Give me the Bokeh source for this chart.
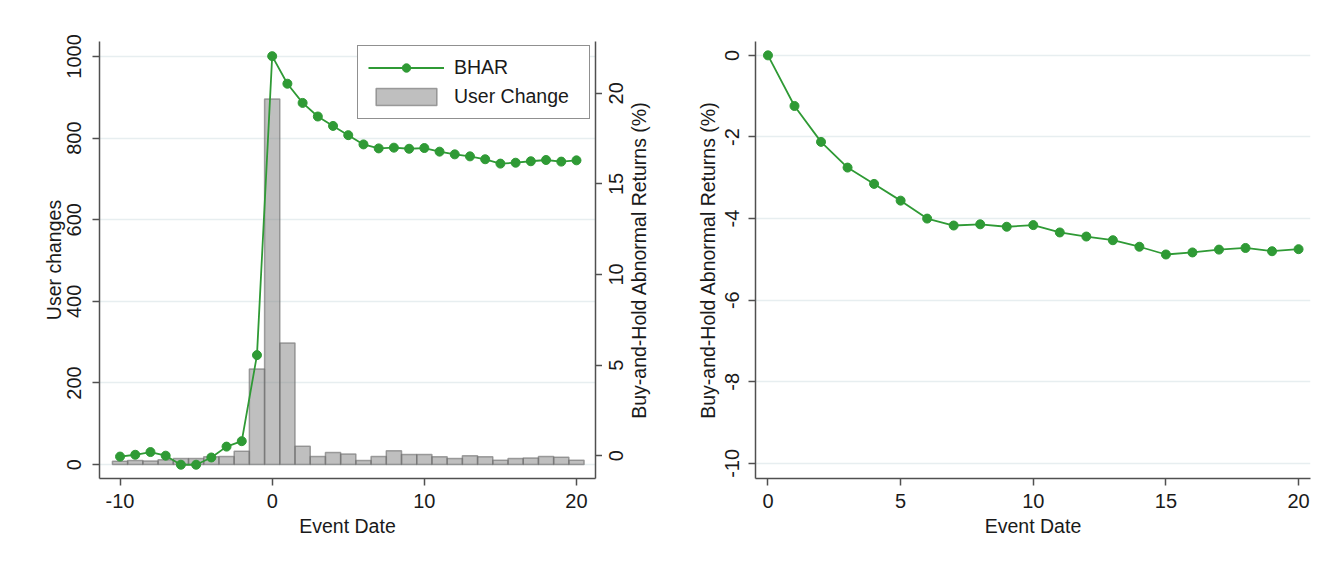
import math
from bokeh.plotting import figure
from bokeh.models import (Range1d, LinearAxis, FixedTicker, Legend, LegendItem,
                          CustomJSTickFormatter, Title)
from bokeh.layouts import row
from bokeh.embed import file_html
from bokeh.resources import INLINE

# ---------------- data ----------------
event_left = list(range(-10, 21))
user_changes = [8, 10, 9, 12, 15, 15, 19, 20, 33, 234, 896, 298, 45, 20, 30, 26,
                10, 20, 34, 25, 25, 19, 15, 22, 19, 11, 15, 16, 20, 18, 11]
bhar_left = [-0.05, 0.05, 0.2, 0.0, -0.5, -0.5, -0.1, 0.5, 0.8, 5.55,
             22.05, 20.53, 19.47, 18.72, 18.2, 17.69, 17.18, 16.96, 17.0, 16.94,
             16.98, 16.78, 16.63, 16.52, 16.36, 16.12, 16.17, 16.25, 16.32, 16.23, 16.30]
event_right = list(range(0, 21))
bhar_right = [0.0, -1.24, -2.12, -2.75, -3.15, -3.56, -4.0, -4.17, -4.14, -4.20,
              -4.16, -4.34, -4.44, -4.53, -4.69, -4.88, -4.83, -4.76, -4.72, -4.80, -4.75]

left_y_ticks = [0, 200, 400, 600, 800, 1000]
right_y_ticks_left_panel = [0, 5, 10, 15, 20]
left_x_ticks = [-10, 0, 10, 20]
right_x_ticks = [0, 5, 10, 15, 20]
right_y_ticks = [-10, -8, -6, -4, -2, 0]
bhar_axis_title = "Buy-and-Hold Abnormal Returns (%)"

# ---------------- style ----------------
FONT = "Liberation Sans"
GREEN = "#2f9a35"
AXIS_C = "#505050"
TEXT_C = "#1a1a1a"
GRID_C = "#e7eef0"
TICK_FS = "20px"
LABEL_FS = "19.5px"
H, TOP, BOTTOM = 573, 40, 94


def style_axis(ax, label_standoff=8, axis_label_standoff=6):
    ax.axis_line_color = AXIS_C
    ax.axis_line_width = 1.5
    ax.major_tick_line_color = AXIS_C
    ax.major_tick_line_width = 1.5
    ax.major_tick_out = 7
    ax.major_tick_in = 0
    ax.minor_tick_line_color = None
    ax.major_label_text_font = FONT
    ax.major_label_text_font_size = TICK_FS
    ax.major_label_text_color = TEXT_C
    ax.major_label_standoff = label_standoff
    ax.axis_label_text_font = FONT
    ax.axis_label_text_font_size = LABEL_FS
    ax.axis_label_text_font_style = "normal"
    ax.axis_label_text_color = TEXT_C
    ax.axis_label_standoff = axis_label_standoff
    ax.formatter = CustomJSTickFormatter(code="return String(tick);")


# ---------------- left panel ----------------
BH0, BH1 = -1.26, 22.86
p1 = figure(width=602, height=H,
            x_range=Range1d(-11.35, 21.25), y_range=Range1d(-34, 1036.6),
            output_backend="svg", toolbar_location=None,
            min_border_left=99, min_border_right=7, min_border_top=TOP, min_border_bottom=BOTTOM)
p1.extra_y_ranges = {"bhar": Range1d(BH0, BH1)}
p1.outline_line_color = None

p1.xaxis[0].ticker = FixedTicker(ticks=left_x_ticks)
p1.yaxis[0].ticker = FixedTicker(ticks=left_y_ticks)
p1.xgrid.visible = False
p1.ygrid.ticker = FixedTicker(ticks=left_y_ticks)
p1.ygrid.grid_line_color = GRID_C
p1.ygrid.grid_line_width = 1.5
p1.xaxis[0].axis_label = "Event Date"
p1.yaxis[0].axis_label = "User changes"
p1.yaxis[0].major_label_orientation = "vertical"
style_axis(p1.xaxis[0], 8, 4)
style_axis(p1.yaxis[0], 11, 0)

# right-hand axis line and ticks (its labels are drawn by the narrow figure next to it)
rax = LinearAxis(y_range_name="bhar", ticker=FixedTicker(ticks=right_y_ticks_left_panel))
style_axis(rax, 0, 0)
rax.formatter = CustomJSTickFormatter(code="return '';")
rax.major_label_text_font_size = "1px"
p1.add_layout(rax, "right")

br = p1.vbar(x=event_left, top=user_changes, bottom=0, width=1.0,
             fill_color="#808080", fill_alpha=0.5,
             line_color="#6a6a6a", line_alpha=0.6, line_width=1.5)
lr = p1.line(event_left, bhar_left, y_range_name="bhar", line_color=GREEN, line_width=1.8)
sr = p1.scatter(event_left, bhar_left, y_range_name="bhar", size=9,
                fill_color=GREEN, line_color=GREEN)

legend = Legend(items=[LegendItem(label="BHAR", renderers=[lr, sr]),
                       LegendItem(label="User Change", renderers=[br])],
                location=(258, 359), margin=0, padding=10, spacing=6,
                glyph_width=76, glyph_height=21, label_height=21, label_width=125,
                label_standoff=10,
                label_text_font=FONT, label_text_font_size="19.5px", label_text_color=TEXT_C,
                border_line_color="#222222", border_line_width=1.5,
                background_fill_color="white", background_fill_alpha=1.0)
p1.add_layout(legend)

# ---------------- narrow strip: BHAR tick labels + axis title ----------------
pr = figure(width=70, height=H, x_range=Range1d(0, 1), y_range=Range1d(BH0, BH1),
            output_backend="svg", toolbar_location=None,
            x_axis_location=None, y_axis_location=None,
            min_border_left=50, min_border_right=0, min_border_top=TOP, min_border_bottom=BOTTOM)
pr.outline_line_color = None
for g in pr.grid:
    g.visible = False
pr.add_layout(Title(text=bhar_axis_title, align="center", standoff=5,
                    text_font=FONT, text_font_size=LABEL_FS, text_font_style="normal",
                    text_color=TEXT_C), "left")
lab_ax = LinearAxis(ticker=FixedTicker(ticks=right_y_ticks_left_panel))
style_axis(lab_ax, 0, 0)
lab_ax.major_label_orientation = "vertical"
lab_ax.axis_line_color = None
lab_ax.major_tick_line_color = None
lab_ax.major_tick_out = 0
pr.add_layout(lab_ax, "left")

# ---------------- right panel ----------------
p2 = figure(width=669, height=H,
            x_range=Range1d(-0.47, 20.45), y_range=Range1d(-10.37, 0.34),
            output_backend="svg", toolbar_location=None,
            min_border_left=83, min_border_right=31, min_border_top=41, min_border_bottom=95)
p2.outline_line_color = None
p2.xaxis[0].ticker = FixedTicker(ticks=right_x_ticks)
p2.yaxis[0].ticker = FixedTicker(ticks=right_y_ticks)
p2.xgrid.visible = False
p2.ygrid.ticker = FixedTicker(ticks=right_y_ticks)
p2.ygrid.grid_line_color = GRID_C
p2.ygrid.grid_line_width = 1.5
p2.xaxis[0].axis_label = "Event Date"
p2.yaxis[0].axis_label = bhar_axis_title
p2.yaxis[0].major_label_orientation = "vertical"
style_axis(p2.xaxis[0], 8, 4)
style_axis(p2.yaxis[0], 9, 4)

p2.line(event_right, bhar_right, line_color=GREEN, line_width=1.8)
p2.scatter(event_right, bhar_right, size=9, fill_color=GREEN, line_color=GREEN)

layout = row(p1, pr, p2)
open("out.html", "w").write(file_html(layout, INLINE))
